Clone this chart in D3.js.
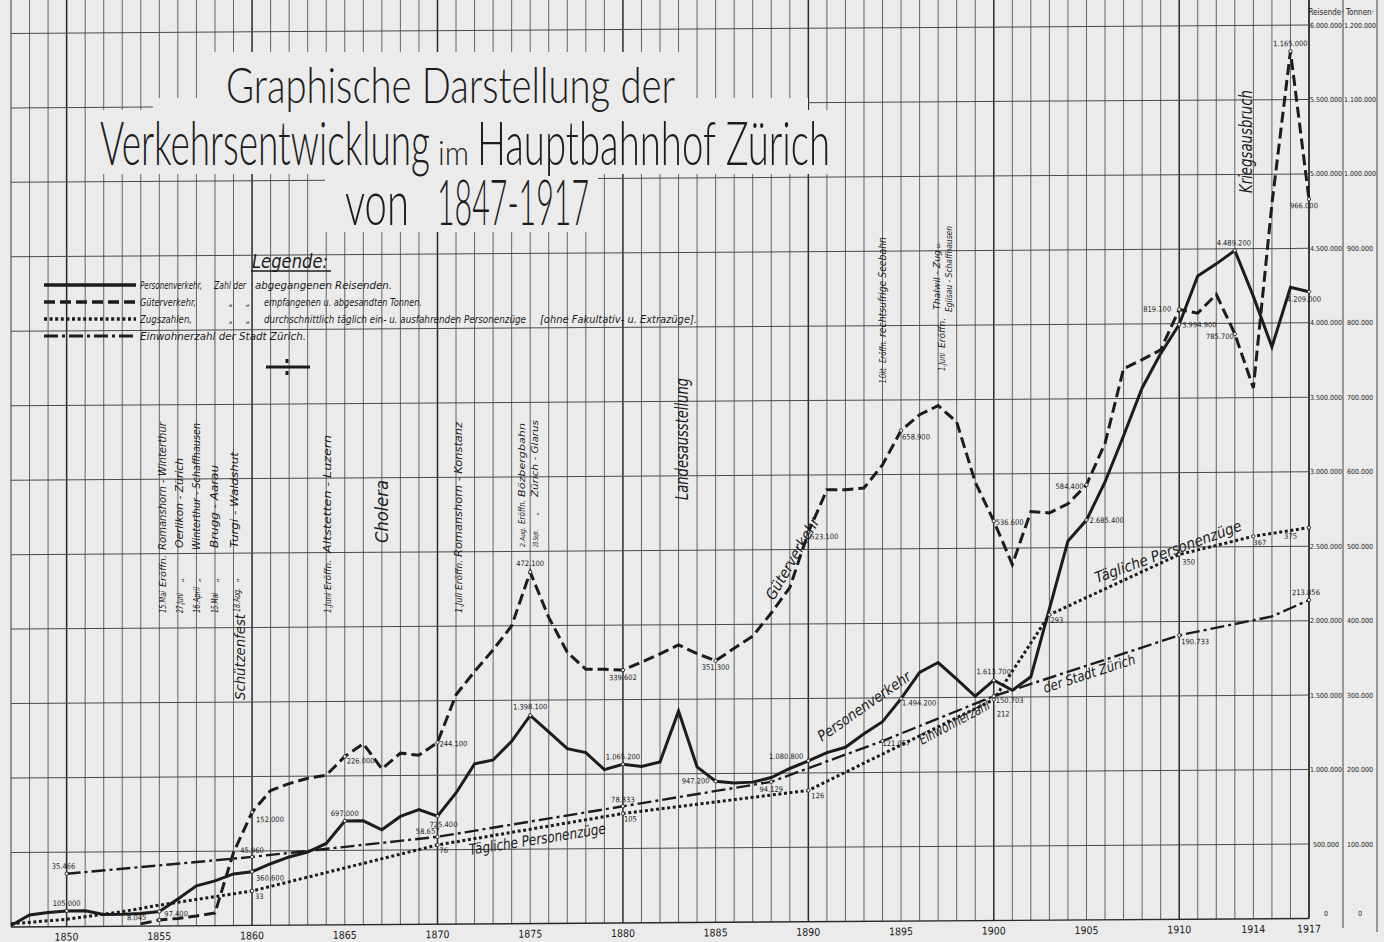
<!DOCTYPE html>
<html><head><meta charset="utf-8">
<script src="https://cdn.jsdelivr.net/npm/d3@7"></script>
<style>
html,body{margin:0;padding:0;background:#ebebeb;}
svg{display:block;}
</style></head><body>
<svg id="c" width="1384" height="942"></svg>
<script>
// ---------------- DATA ----------------
const personenYears = [1847,1848,1849,1850,1851,1852,1853,1854,1855,1856,1857,1858,1859,1860,1861,1862,1863,1864,1865,1866,1867,1868,1869,1870,1871,1872,1873,1874,1875,1876,1877,1878,1879,1880,1881,1882,1883,1884,1885,1886,1887,1888,1889,1890,1891,1892,1893,1894,1895,1896,1897,1898,1899,1900,1901,1902,1903,1904,1905,1906,1907,1908,1909,1910,1911,1912,1913,1914,1915,1916,1917];
const personenValues = [10000,80000,95000,105000,105000,80000,80000,85000,97400,180000,268000,300000,346000,360600,413000,458000,490000,547000,697000,697000,636000,725000,770000,725400,880000,1075000,1100000,1225000,1398100,1286000,1173000,1146000,1030000,1065200,1050000,1080000,1420000,1045000,947200,935000,940000,970000,1030000,1080800,1135000,1170000,1260000,1340000,1494200,1670000,1735000,1623000,1507000,1613700,1545000,1635000,2090000,2545000,2685400,2940000,3250000,3570000,3800000,3994900,4320000,4400000,4489200,4180000,3840000,4240000,4209000];

const gueterYears = [1854,1855,1856,1857,1858,1859,1860,1861,1862,1863,1864,1865,1866,1867,1868,1869,1870,1871,1872,1873,1874,1875,1876,1877,1878,1879,1880,1881,1882,1883,1884,1885,1886,1887,1888,1889,1890,1891,1892,1893,1894,1895,1896,1897,1898,1899,1900,1901,1902,1903,1904,1905,1906,1907,1908,1909,1910,1911,1912,1913,1914,1915,1916,1917];
const gueterValues = [3000,8045,10000,13000,17000,98000,152000,181000,190000,197000,201000,226000,243000,209000,230000,227000,244100,308000,339000,368000,400000,472100,411000,364000,341000,341000,339602,350000,361000,373000,361000,351300,368000,384000,415000,449000,523100,580000,580000,582000,613000,658900,680000,692000,670000,589000,536600,478000,549000,547000,559000,584400,640000,740000,752000,765000,819100,814000,839000,785700,713000,960000,1165000,966000];

const zugYears = [1847,1850,1853,1855,1860,1870,1880,1890,1900,1903,1910,1914,1917];
const zugValues = [3,7,14,20,33,76,105,126,212,293,350,367,375];

const einwohnerYears = [1850,1860,1870,1880,1888,1894,1900,1910,1915,1917];
const einwohnerValues = [35466,45960,58657,78333,94129,121057,150703,190733,203000,213856];

const xTickYears = [1850,1855,1860,1865,1870,1875,1880,1885,1890,1895,1900,1905,1910,1914,1917];
const reisendeTicks = [0,500000,1000000,1500000,2000000,2500000,3000000,3500000,4000000,4500000,5000000,5500000,6000000];
const tonnenTicks = [0,100000,200000,300000,400000,500000,600000,700000,800000,900000,1000000,1100000,1200000];

// labelled points (which years carry a printed value)
const personenLabelYears = [1850,1855,1860,1865,1870,1875,1880,1885,1890,1895,1900,1905,1910,1913,1917];
const gueterLabelYears = [1855,1860,1865,1870,1875,1880,1885,1890,1895,1900,1905,1910,1913,1916,1917];
const zugLabelYears = [1860,1870,1880,1890,1900,1903,1910,1914,1917];
const einwohnerLabelYears = [1850,1860,1870,1880,1888,1894,1900,1910,1917];

// ---------------- LAYOUT (positions / styles) ----------------
const personenLabelPos = [[0,-5,"middle"],[5,5,"start"],[4,9,"start"],[0,-5,"middle"],[6,11,"middle"],[0,-6,"middle"],[0,-5,"middle"],[-6,2,"end"],[-5,-2,"end"],[1,7,"start"],[0,-6,"middle"],[3,3,"start"],[3,3,"start"],[-1,-5,"middle"],[-5,10,"middle"]];
const gueterLabelPos = [[-13,0,"end"],[4,10,"start"],[2,7,"start"],[2,4,"start"],[0,-6,"middle"],[0,10,"middle"],[0,9,"middle"],[2,7,"start"],[1,9,"start"],[2,4,"start"],[-3,4,"end"],[-8,2,"end"],[-1,5,"end"],[0,-5,"middle"],[-5,9,"middle"]];
const zugLabelPos = [[3,8,"start"],[2,8,"start"],[1,8,"start"],[3,8,"start"],[3,17,"start"],[1,8,"start"],[3,10,"start"],[0,9,"start"],[-12,11,"end"]];
const einwohnerLabelPos = [[-3,-5,"middle"],[0,-4,"middle"],[2,-3,"end"],[0,-4,"middle"],[0,10,"middle"],[0,5,"start"],[2,7,"start"],[2,9,"start"],[-3,-5,"middle"]];

const INK = "#1c1c1c";
const BG = "#ebebeb";
const NARROW = '"Liberation Sans Narrow","DejaVu Sans Condensed","Liberation Sans",sans-serif';
const styles = {
  personen: {w:3, dash:null},
  gueter: {w:3, dash:"11,5"},
  zug: {w:3, dash:"3,2.6"},
  einwohner: {w:2.4, dash:"14,4,3,4"}
};

// ---------------- SCALES ----------------
const svg = d3.select("#c");
svg.append("rect").attr("width",1384).attr("height",942).attr("fill",BG);

const x = d3.scaleLinear().domain([1847,1917]).range([11,1309]);
const yR = d3.scaleLinear().domain([0,6000000]).range([918.5,25]);
const yT = d3.scaleLinear().domain([0,1200000]).range([918.5,25]);
const yZ = d3.scaleLinear().domain([0,6000000/7000]).range([918.5,25]);
const fmt = d3.formatLocale({decimal:",",thousands:".",grouping:[3],currency:["",""]}).format(",d");

// the drawing sheet is slightly sheared (lines rise to the right)
const sk = -0.0065;
const g = svg.append("g").attr("transform",`matrix(1,${sk},0,1,0,${(-sk*1309).toFixed(3)})`);

// ---------------- GRID ----------------
const gridYears = d3.range(1847,1918);
g.append("g").selectAll("line").data(gridYears).join("line")
  .attr("x1",d=>x(d)).attr("x2",d=>x(d))
  .attr("y1",-16).attr("y2",yR(0))
  .attr("stroke", d=> d%10===0 || d===1917 || d===1847 ? "#2a2a2a" : "#555")
  .attr("stroke-width", d=> d===1917 ? 1.8 : (d%10===0 ? 1.5 : 0.9));
g.append("g").selectAll("line").data(reisendeTicks).join("line")
  .attr("x1",x(1847)).attr("x2",x(1917))
  .attr("y1",d=>yR(d)).attr("y2",d=>yR(d))
  .attr("stroke",d=>d===0?"#2a2a2a":"#4a4a4a").attr("stroke-width",d=>d===0?1.4:1);

// x labels
g.append("g").selectAll("text").data(xTickYears).join("text")
  .attr("x",d=>x(d)).attr("y",yR(0)+14)
  .attr("text-anchor","middle").attr("font-family",NARROW).attr("font-size",10.5)
  .attr("fill",INK).text(d=>d);

// right axis area
svg.append("line").attr("x1",1343).attr("x2",1343).attr("y1",0).attr("y2",928).attr("stroke","#444").attr("stroke-width",1);
svg.append("line").attr("x1",1377).attr("x2",1377).attr("y1",0).attr("y2",932).attr("stroke","#444").attr("stroke-width",1);
svg.append("text").attr("x",1326).attr("y",15).attr("text-anchor","middle").attr("font-family",NARROW).attr("font-size",8).attr("fill",INK).text("Reisende·");
svg.append("text").attr("x",1360).attr("y",15).attr("text-anchor","middle").attr("font-family",NARROW).attr("font-size",8).attr("fill",INK).text("Tonnen·");
svg.append("g").selectAll("text").data(reisendeTicks).join("text")
  .attr("x",1326).attr("y",d=>yR(d)+ (d===0? -3 : 2.5)).attr("text-anchor","middle")
  .attr("font-family",NARROW).attr("font-size",7).attr("fill",INK).text(d=>fmt(d));
svg.append("g").selectAll("text").data(tonnenTicks).join("text")
  .attr("x",1360).attr("y",d=>yT(d)+ (d===0? -3 : 2.5)).attr("text-anchor","middle")
  .attr("font-family",NARROW).attr("font-size",7).attr("fill",INK).text(d=>fmt(d));

// ---------------- TITLE ----------------
const boxes = [[200,52,482,60],[153,98,655,16],[96,110,742,64],[325,170,273,62]];
svg.append("g").selectAll("rect").data(boxes).join("rect")
  .attr("x",d=>d[0]).attr("y",d=>d[1]).attr("width",d=>d[2]).attr("height",d=>d[3]).attr("fill",BG);
const TF = 'Lato,"Open Sans","DejaVu Sans",sans-serif';
function titlePiece(txt, px, py, size, len){
  svg.append("text").attr("x",px).attr("y",py).attr("font-family",TF).attr("font-weight",300)
    .attr("font-size",size).attr("fill",INK).attr("textLength",len).attr("lengthAdjust","spacingAndGlyphs").text(txt);
}
titlePiece("Graphische Darstellung der",226,103,49,449);
titlePiece("Verkehrsentwicklung",100,165,61,330);
titlePiece("im",438,165,34,31);
titlePiece("Hauptbahnhof Zürich",477,165,61,353);
titlePiece("von",345,225,64,64);
titlePiece("1847-1917",437,225,64,152);

// ---------------- LEGEND ----------------
const LF = NARROW;
svg.append("text").attr("x",252).attr("y",268).attr("font-family",LF).attr("font-style","italic")
  .attr("font-size",19).attr("fill",INK).attr("textLength",76).attr("lengthAdjust","spacingAndGlyphs").text("Legende:");
svg.append("line").attr("x1",251).attr("x2",331).attr("y1",271).attr("y2",271).attr("stroke",INK).attr("stroke-width",1.3);
const legendRows = [
  {key:"personen", y:289, parts:[["Personenverkehr,",140,62],["Zahl der",214,32],["abgegangenen Reisenden.",255,137]]},
  {key:"gueter", y:306, parts:[["Güterverkehr,",140,56],["\u201E",229,4],["\u201E",246,4],["empfangenen u. abgesandten Tonnen.",264,158]]},
  {key:"zug", y:323, parts:[["Zugszahlen,",140,52],["\u201E",229,4],["\u201E",246,4],["durchschnittlich täglich ein- u. ausfahrenden Personenzüge",264,262],["[ohne Fakultativ- u. Extrazüge].",540,157]]},
  {key:"einwohner", y:340, parts:[["Einwohnerzahl der Stadt Zürich.",140,166]]}
];
legendRows.forEach(r=>{
  const st = styles[r.key];
  svg.append("line").attr("x1",44).attr("x2",136).attr("y1",r.y-4).attr("y2",r.y-4)
    .attr("stroke",INK).attr("stroke-width",st.w+0.5).attr("stroke-dasharray",st.dash);
  r.parts.forEach(p=>{
    svg.append("text").attr("x",p[1]).attr("y",r.y).attr("font-family",LF).attr("font-style","italic")
      .attr("font-size",11).attr("fill",INK).attr("textLength",p[2]).attr("lengthAdjust","spacingAndGlyphs").text(p[0]);
  });
});
svg.append("path").attr("d","M266,367 H310 M287,359 V363 M287,371 V375").attr("stroke",INK).attr("stroke-width",3).attr("fill","none");

// ---------------- EVENT ANNOTATIONS (vertical) ----------------
const ann = [
  ["15.Mai",166,613,9,22],["Eröffn.",166,587,9,32],["Romanshorn - Winterthur",166,550,10.5,128],
  ["27.Juni",183,613,9,20],["\u201E",183,582,9,4],["Oerlikon - Zürich",183,548,10.5,90],
  ["16.April",200,613,9,26],["\u201E",200,582,9,4],["Winterthur - Schaffhausen",200,550,10.5,127],
  ["15.Mai",218,613,9,20],["\u201E",218,582,9,4],["Brugg - Aarau",218,548,10.5,83],
  ["Schützenfest",245,700,14,86],["18.Aug.",240,612,8,24],["\u201E",238,582,9,4],["Turgi - Waldshut",238,548,10.5,96],
  ["1.Juni",331,613,9,20],["Eröffn.",331,590,9,30],["Altstetten - Luzern",331,553,10.5,118],
  ["Cholera",388,543,17,63],
  ["1.Juli",462,613,9,20],["Eröffn.",462,590,9,30],["Romanshorn - Konstanz",462,557,10.5,135],
  ["2.Aug.",525,547,7,20],["Eröffn.",525,524,8,24],["Bözbergbahn",525,497,9,74],
  ["20.Sept.",538,547,7,17],["\u201E",538,515,8,3],["Zürich - Glarus",538,497,9,77],
  ["Landesausstellung",688,500,17,122],
  ["1.Okt.",886,383,8,16],["Eröffn.",886,363,8,23],["rechtsufrige Seebahn",886,337,10,100],
  ["1.Juni",945,371,8,18],["Eröffn.",945,348,8,30],["Thalwil - Zug",940,310,9,60],["u.",940,248,6,6],
  ["Eglisau - Schaffhausen",952,312,9,86],
  ["Kriegsausbruch",1252,193,17,103]
];
svg.append("g").selectAll("text").data(ann).join("text")
  .attr("transform",d=>`translate(${d[1]},${d[2]}) rotate(-90)`)
  .attr("font-family",NARROW).attr("font-style","italic").attr("font-size",d=>d[3])
  .attr("fill",INK).attr("textLength",d=>d[4]).attr("lengthAdjust","spacingAndGlyphs").text(d=>d[0]);

// ---------------- SERIES ----------------
function series(years, values, yScale, st){
  const pts = years.map((yr,i)=>({year:yr, value:values[i]}));
  g.append("path").datum(pts)
    .attr("d", d3.line().x(d=>x(d.year)).y(d=>yScale(d.value)))
    .attr("fill","none").attr("stroke",INK).attr("stroke-width",st.w)
    .attr("stroke-dasharray",st.dash).attr("stroke-linejoin","miter").attr("stroke-linecap","butt");
  return pts;
}
series(einwohnerYears, einwohnerValues.map(v=>v*10), yR, styles.einwohner);
series(zugYears, zugValues, yZ, styles.zug);
series(gueterYears, gueterValues, yT, styles.gueter);
series(personenYears, personenValues, yR, styles.personen);

function labels(years, values, labelYears, pos, yScale, textFn){
  labelYears.forEach((yr,i)=>{
    const v = values[years.indexOf(yr)];
    const px = x(yr), py = yScale(v);
    g.append("circle").attr("cx",px).attr("cy",py).attr("r",1.7).attr("fill",BG).attr("stroke",INK).attr("stroke-width",0.8);
    const p = pos[i];
    g.append("text").attr("x",px+p[0]).attr("y",py+p[1]).attr("text-anchor",p[2])
      .attr("font-family",NARROW).attr("font-size",7.5).attr("fill",INK).text(textFn(v));
  });
}
labels(personenYears, personenValues, personenLabelYears, personenLabelPos, yR, fmt);
labels(gueterYears, gueterValues, gueterLabelYears, gueterLabelPos, yT, fmt);
labels(zugYears, zugValues, zugLabelYears, zugLabelPos, yZ, v=>String(v));
labels(einwohnerYears, einwohnerValues.map(v=>v*10), einwohnerLabelYears, einwohnerLabelPos, yR, v=>fmt(v/10));

// ---------------- LINE NAMES ----------------
const lineNames = [
  ["Güterverkehr",774,601,-60,15,92],
  ["Personenverkehr",822,742,-35,15,110],
  ["Tägliche Personenzüge",470,855,-9,15,138],
  ["Tägliche Personenzüge",1097,583,-20,15,155],
  ["Einwohnerzahl",922,745,-28,14,78],
  ["der Stadt Zürich",1045,693,-18,14,96]
];
svg.append("g").selectAll("text").data(lineNames).join("text")
  .attr("transform",d=>`translate(${d[1]},${d[2]}) rotate(${d[3]})`)
  .attr("font-family",NARROW).attr("font-style","italic").attr("font-size",d=>d[4])
  .attr("fill",INK).attr("textLength",d=>d[5]).attr("lengthAdjust","spacingAndGlyphs").text(d=>d[0]);
</script>
</body></html>
